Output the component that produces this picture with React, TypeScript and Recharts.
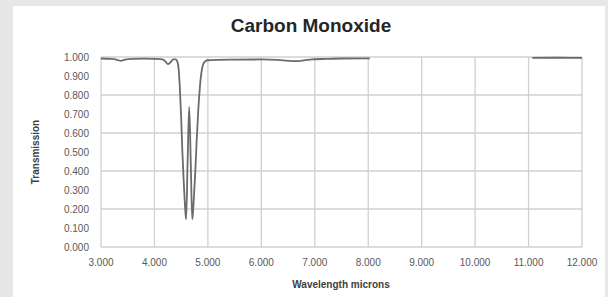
import { CartesianGrid, Line, LineChart, XAxis, YAxis } from 'recharts'

const wavelength = [
	3.0, 3.2, 3.3, 3.37, 3.45, 3.6, 3.8, 4.0, 4.15, 4.21, 4.25, 4.3, 4.35, 4.4, 4.43,
	4.455, 4.475, 4.5, 4.52, 4.545, 4.565, 4.58, 4.593, 4.62, 4.65, 4.68, 4.707,
	4.72, 4.74, 4.765, 4.79, 4.82, 4.85, 4.88, 4.91, 4.95, 5.0, 5.2, 5.5, 6.0, 6.3,
	6.5, 6.65, 6.8, 6.95, 7.2, 7.5, 8.03, 9.5, 11.07, 11.5, 12.0,
]

const transmission = [
	0.992, 0.99, 0.985, 0.98, 0.986, 0.99, 0.991, 0.99, 0.988, 0.975, 0.962, 0.972,
	0.988, 0.988, 0.975, 0.93, 0.84, 0.68, 0.52, 0.36, 0.25, 0.18, 0.147, 0.44,
	0.737, 0.44, 0.147, 0.18, 0.27, 0.4, 0.56, 0.72, 0.84, 0.92, 0.96, 0.978, 0.983,
	0.985, 0.986, 0.987, 0.985, 0.98, 0.978, 0.982, 0.988, 0.99, 0.992, 0.993, null,
	0.995, 0.996, 0.995,
]

const xTicks = [3, 4, 5, 6, 7, 8, 9, 10, 11, 12]
const yTicks = [0, 0.1, 0.2, 0.3, 0.4, 0.5, 0.6, 0.7, 0.8, 0.9, 1]

const data = wavelength.map((w, i) => ({ w, t: transmission[i] }))

const font = '"Liberation Sans", Arial, sans-serif'

export default function App() {
	return (
		<div
			style={{
				position: 'absolute',
				left: 0,
				top: 0,
				width: 608,
				height: 297,
				background: '#e7e7e7',
				fontFamily: font,
			}}
		>
			<div
				style={{
					position: 'absolute',
					left: 13,
					top: 6,
					width: 592,
					height: 291,
					background: '#ffffff',
				}}
			/>
			<div
				style={{
					position: 'absolute',
					left: 13,
					width: 596,
					top: 15,
					textAlign: 'center',
					fontSize: 19,
					fontWeight: 'bold',
					color: '#262626',
				}}
			>
				Carbon Monoxide
			</div>
			<div
				style={{
					position: 'absolute',
					left: 35,
					top: 152,
					transform: 'translate(-50%, -50%) rotate(-90deg)',
					fontSize: 10,
					fontWeight: 'bold',
					color: '#404040',
					whiteSpace: 'nowrap',
				}}
			>
				Transmission
			</div>
			<div
				style={{
					position: 'absolute',
					left: 341,
					top: 284,
					transform: 'translate(-50%, -50%)',
					fontSize: 10,
					fontWeight: 'bold',
					color: '#404040',
					whiteSpace: 'nowrap',
				}}
			>
				Wavelength microns
			</div>
			<div style={{ position: 'absolute', left: 0, top: 0 }}>
				<LineChart
					width={608}
					height={297}
					data={data}
					margin={{ top: 57, right: 26, bottom: 20, left: 41 }}
				>
					<CartesianGrid stroke='#d0d0d0' strokeWidth={1.3} />
					<XAxis
						dataKey='w'
						type='number'
						domain={[3, 12]}
						ticks={xTicks}
						height={30}
						tickLine={false}
						axisLine={false}
						tickMargin={6}
						tick={{ fontSize: 10, fill: '#595959', fontFamily: font }}
						tickFormatter={(v: number) => v.toFixed(3)}
					/>
					<YAxis
						type='number'
						domain={[0, 1]}
						ticks={yTicks}
						width={60}
						tickLine={false}
						axisLine={false}
						tickMargin={6}
						tick={{ fontSize: 10, fill: '#595959', fontFamily: font }}
						tickFormatter={(v: number) => v.toFixed(3)}
					/>
					<Line
						dataKey='t'
						type='monotone'
						stroke='#6b6b6b'
						strokeWidth={1.8}
						dot={false}
						connectNulls={false}
						isAnimationActive={false}
					/>
				</LineChart>
			</div>
		</div>
	)
}
